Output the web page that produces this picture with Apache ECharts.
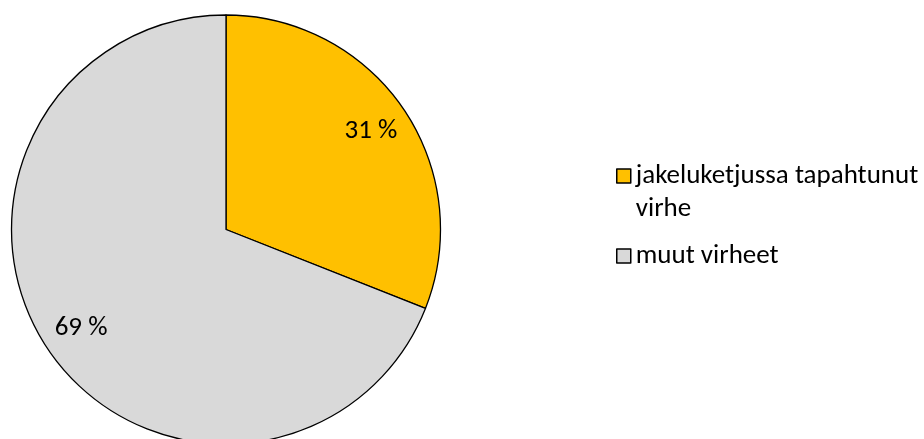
<!DOCTYPE html>
<html>
<head>
<meta charset="utf-8">
<script src="https://cdn.jsdelivr.net/npm/echarts@6/dist/echarts.min.js"></script>
<style>
html,body{margin:0;padding:0;background:#fff;}
#chart{width:924px;height:439px;}
</style>
</head>
<body>
<div id="chart"></div>
<script>
const categories = ['jakeluketjussa tapahtunut virhe', 'muut virheet'];
const values = [31, 69];
const colors = ['#FFC000', '#D9D9D9'];
const legendText = {'jakeluketjussa tapahtunut virhe': '\njakeluketjussa tapahtunut\nvirhe', 'muut virheet': 'muut virheet'};

const FONT = 'Carlito, Lato, sans-serif';
const chart = echarts.init(document.getElementById('chart'), null, {renderer: 'canvas'});
const pieData = categories.map((c, i) => ({name: c, value: values[i], itemStyle: {color: colors[i]}}));

chart.setOption({
  animation: false,
  legend: {
    orient: 'vertical',
    left: 616,
    top: 126.5,
    padding: 0,
    itemWidth: 14,
    itemHeight: 14,
    itemGap: 14,
    icon: 'rect',
    itemStyle: {borderColor: '#000', borderWidth: 1.5},
    data: categories,
    formatter: n => legendText[n],
    textStyle: {fontFamily: FONT, fontSize: 27, color: '#000', lineHeight: 33}
  },
  series: [
    {
      type: 'pie',
      center: [226, 229.5],
      radius: [0, 214.5],
      startAngle: 90,
      clockwise: true,
      silent: true,
      label: {show: false},
      labelLine: {show: false},
      itemStyle: {borderColor: '#000', borderWidth: 1.3},
      data: pieData
    },
    {
      type: 'pie',
      center: [226, 229.5],
      radius: [130, 214.5],
      startAngle: 90,
      clockwise: true,
      silent: true,
      legendHoverLink: false,
      itemStyle: {color: 'rgba(0,0,0,0)', borderWidth: 0},
      label: {
        show: true,
        position: 'inside',
        formatter: p => p.value + ' %',
        fontFamily: FONT,
        fontSize: 27,
        color: '#000'
      },
      labelLine: {show: false},
      data: categories.map((c, i) => ({name: c + '_lbl', value: values[i]}))
    }
  ]
});
</script>
</body>
</html>
